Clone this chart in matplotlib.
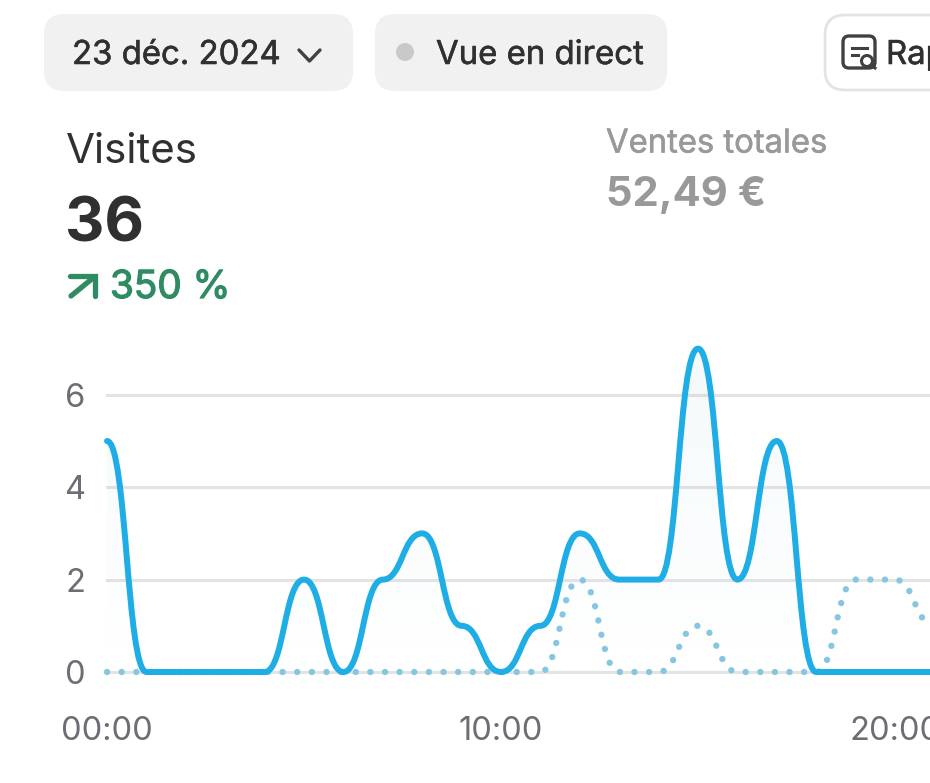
import numpy as np
import matplotlib
matplotlib.use('Agg')
import matplotlib.pyplot as plt
import matplotlib.patheffects as pe
from matplotlib.path import Path
from matplotlib.patches import PathPatch, FancyBboxPatch, Circle

plt.rcParams['font.family'] = ['Inter', 'DejaVu Sans']

# donnees
heures = [0, 1, 2, 3, 4, 5, 6, 7, 8, 9, 10, 11, 12, 13, 14, 15, 16, 17, 18, 19, 20, 21]
visites = [5, 0, 0, 0, 0, 2, 0, 2, 3, 1, 0, 1, 3, 2, 2, 7, 2, 5, 0, 0, 0, 0]
visites_avant = [0, 0, 0, 0, 0, 0, 0, 0, 0, 0, 0, 0, 2, 0, 0, 1, 0, 0, 0, 2, 2, 1]
y_ticks = [0, 2, 4, 6]
x_ticks = [0, 10, 20]
x_labels = ['00:00', '10:00', '20:00']

BLEU = '#1fade6'
BLEU_PALE = '#85c6e3'
GRIS_TXT = '#6d6d75'
W, H = 930, 783


def courbe(xs, ys):
    # segments de bezier a tangentes horizontales
    verts = [(xs[0], ys[0])]
    codes = [Path.MOVETO]
    for i in range(len(xs) - 1):
        mid = (xs[i] + xs[i + 1]) / 2
        verts += [(mid, ys[i]), (mid, ys[i + 1]), (xs[i + 1], ys[i + 1])]
        codes += [Path.CURVE4, Path.CURVE4, Path.CURVE4]
    return Path(verts, codes)


fig = plt.figure(figsize=(W / 100, H / 100), dpi=100)

# axe du graphique, 0 a y=672px, 39.4px par heure, 46.2px par unite
ax = fig.add_axes([107 / W, (H - 672) / H, (W - 107) / W, 7.2 * 46.2 / H])
ax.set_xlim(0, (W - 107) / 39.4)
ax.set_ylim(0, 7.2)
for s in ax.spines.values():
    s.set_visible(False)
ax.set_yticks(y_ticks)
ax.set_xticks(x_ticks)
ax.set_xticklabels(x_labels)
ax.tick_params(axis='both', length=0, labelsize=23.5, labelcolor=GRIS_TXT)
ax.tick_params(axis='y', pad=15.5)
ax.tick_params(axis='x', pad=32)
ax.grid(axis='y', color='#e3e3e3', linewidth=2.2, zorder=1, clip_on=False)
ax.set_axisbelow(True)
for g in ax.get_ygridlines():
    g.set_clip_on(False)

# degrade sous la courbe
chemin = courbe(heures, visites)
verts_fill = np.vstack([chemin.vertices, [heures[-1], 0], [heures[0], 0], [heures[0], visites[0]]])
codes_fill = list(chemin.codes) + [Path.LINETO, Path.LINETO, Path.CLOSEPOLY]
fond = PathPatch(Path(verts_fill, codes_fill), transform=ax.transData, facecolor='none', edgecolor='none')
ax.add_patch(fond)
rgba = np.zeros((100, 1, 4))
rgba[..., :3] = matplotlib.colors.to_rgb('#3f93b8')
rgba[..., 3] = np.linspace(0.055, 0.0, 100).reshape(-1, 1)
im = ax.imshow(rgba, extent=(0, 21, 0, 7), origin='upper', aspect='auto', zorder=2)
im.set_clip_path(fond)
ax.set_xlim(0, (W - 107) / 39.4)
ax.set_ylim(0, 7.2)

# periode precedente en pointilles
ax.add_patch(PathPatch(courbe(heures, visites_avant), facecolor='none', edgecolor=BLEU_PALE, linewidth=4.6,
                       linestyle=(0, (0.01, 2.28)), capstyle='round', clip_on=False, zorder=3))
ax.add_patch(PathPatch(chemin, facecolor='none', edgecolor=BLEU, linewidth=4.3,
                       capstyle='round', joinstyle='round', clip_on=False, zorder=4))

# entete en pixels
ui = fig.add_axes([0, 0, 1, 1], zorder=5)
ui.set_xlim(0, W)
ui.set_ylim(H, 0)
ui.axis('off')


def pilule(x0, x1, y0, y1, fc, ec='none', lw=0):
    ui.add_patch(FancyBboxPatch((x0 + 20, y0 + 20), x1 - x0 - 40, y1 - y0 - 40, boxstyle='round,pad=20',
                                facecolor=fc, edgecolor=ec, linewidth=lw))


def gras(epaisseur, couleur):
    return [pe.withStroke(linewidth=epaisseur, foreground=couleur)]


pilule(44, 353, 14, 91, '#f1f1f1')
pilule(375, 667, 14, 91, '#f1f1f1')
pilule(825, 1000, 15, 90, 'white', '#e3e3e3', 2)

ui.text(72, 64, '23 déc. 2024', fontsize=23.7, color='#303030', va='baseline', path_effects=gras(0.4, '#303030'))
ui.plot([299, 309.5, 320], [50, 61, 50], color='#404040', lw=2.4, solid_capstyle='round', solid_joinstyle='round')
ui.add_patch(Circle((405, 52), 9, facecolor='#c9c9c9', edgecolor='none'))
ui.text(436, 64, 'Vue en direct', fontsize=23.7, color='#303030', va='baseline', path_effects=gras(0.4, '#303030'))

# icone rapport
ui.add_patch(FancyBboxPatch((849, 42), 20, 20, boxstyle='round,pad=6', facecolor='none', edgecolor='#404040', linewidth=2.4))
ui.plot([852, 867], [48, 48], color='#404040', lw=2.2)
ui.plot([852, 858], [55, 55], color='#404040', lw=2.2)
ui.add_patch(Circle((867, 61), 5.5, facecolor='white', edgecolor='#404040', linewidth=2.2))
ui.plot([871, 875], [65, 68], color='#404040', lw=2.2)
ui.text(886, 64, 'Rapports', fontsize=23.7, color='#303030', va='baseline', path_effects=gras(0.4, '#303030'))

ui.text(66, 163, 'Visites', fontsize=30.3, color='#303030', va='baseline')
ui.text(65, 242, '36', fontsize=44, fontweight='bold', color='#303030', va='baseline')
ui.plot([71, 93], [296, 278], color='#2e8b62', lw=3.8, solid_capstyle='round')
ui.plot([70, 95, 95], [276, 276, 296], color='#2e8b62', lw=3.8, solid_capstyle='round', solid_joinstyle='miter')
ui.text(110, 298, '350 %', fontsize=27.8, color='#2e8b62', va='baseline', path_effects=gras(0.9, '#2e8b62'))
ui.text(606, 152.5, 'Ventes totales', fontsize=23.6, color='#999999', va='baseline', path_effects=gras(0.4, '#999999'))
ui.text(606, 206, '52,49 €', fontsize=30, fontweight='bold', color='#999999', va='baseline')

fig.savefig('out.png', dpi=100, facecolor='white')
